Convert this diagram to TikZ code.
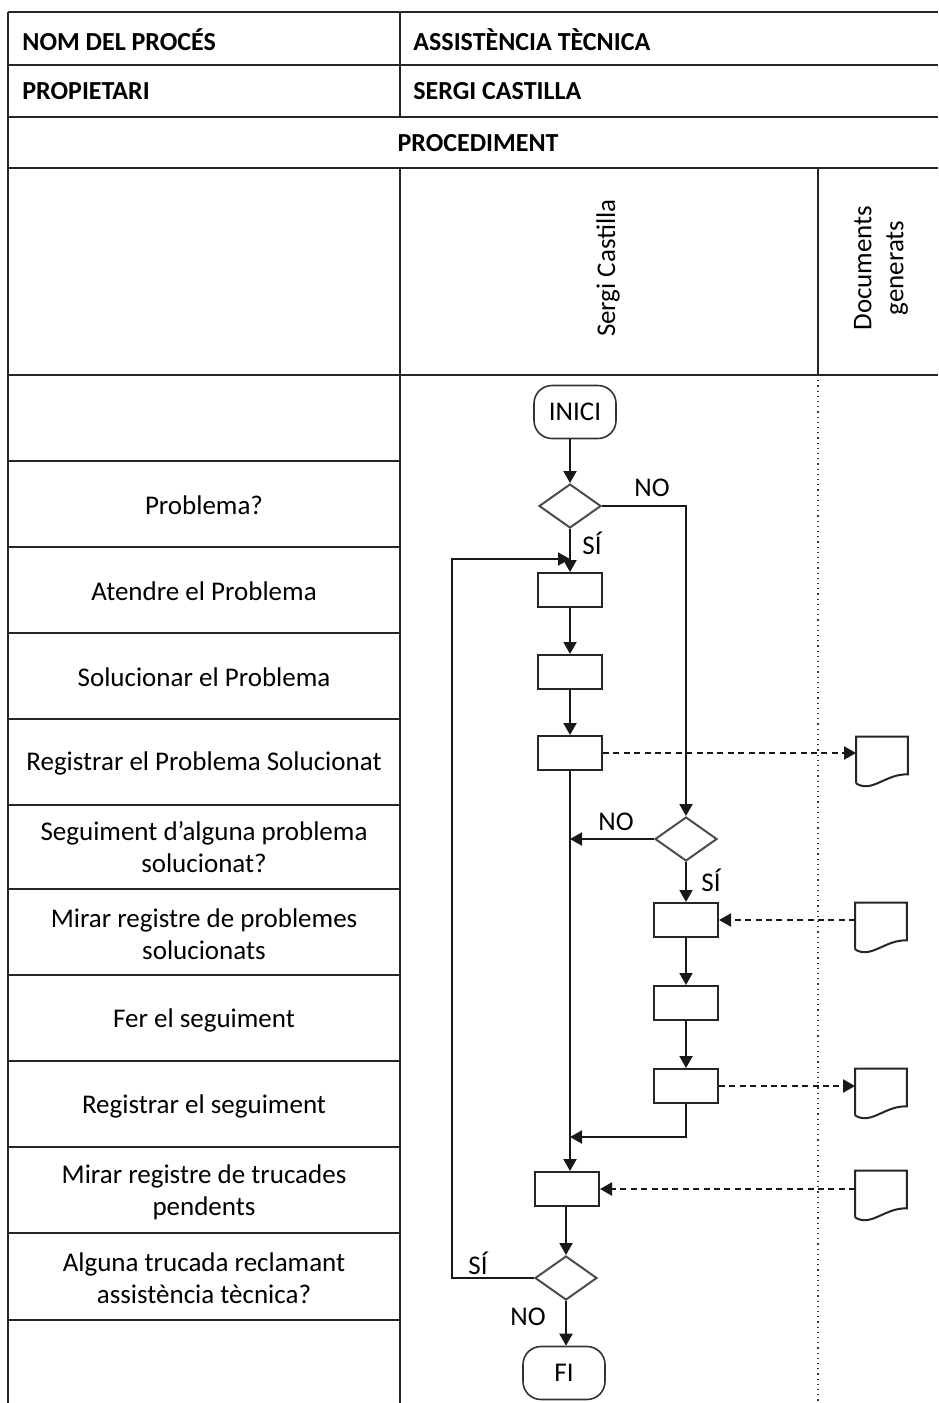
\documentclass[tikz,border=0pt]{standalone}
\usepackage{fontspec}
\setmainfont{Carlito}
\usetikzlibrary{shapes.geometric,arrows.meta,calc}
\newcommand{\fs}{\fontsize{13}{16}\selectfont}
\newcommand{\fb}{\fontsize{13.5}{16}\selectfont}

\begin{document}
\begin{tikzpicture}[x=0.5pt,y=-0.5pt,
  grid/.style={line width=1.1pt, draw=black!85},
  lane/.style={line width=0.6pt, draw=black!80, dotted},
  flow/.style={line width=1pt, draw=black!90, -{Triangle[length=6pt,width=6.5pt]}},
  docflow/.style={flow, dash pattern=on 3pt off 2.2pt},
  task/.style={draw=black!85, line width=1pt, minimum width=32pt, minimum height=17pt, inner sep=0pt},
  choice/.style={diamond, draw=black!70, line width=1pt, minimum width=31pt, minimum height=22pt, inner sep=0pt},
  term/.style={draw=black!80, line width=0.8pt, rounded corners=9pt, minimum width=41pt, minimum height=26.5pt, inner sep=0pt, font=\fb},
  docbox/.style={minimum width=25.5pt, minimum height=23pt, inner sep=0pt},
  docline/.style={draw=black!85, line width=1pt},
  lbl/.style={font=\fb, inner sep=0pt},
  rowtxt/.style={font=\fb, align=center, inner sep=0pt},
  head/.style={font=\fs\bfseries, anchor=west, inner sep=0pt},
]
\useasboundingbox[fill=white] (0,0) rectangle (938,1403);

% ---- table frame ----
\foreach \y in {12,65,117,168,375} \draw[grid] (8,\y) -- (938,\y);
\foreach \y in {461,547,633,719,805,889,975,1061,1147,1233,1320} \draw[grid] (8,\y) -- (400,\y);
\draw[grid] (8,12) -- (8,1403);
\draw[grid] (400,12) -- (400,117);
\draw[grid] (400,168) -- (400,1403);
\draw[grid] (818,168) -- (818,375);
\draw[lane] (818,375) -- (818,1403);

% ---- header ----
\node[head] (hname) at (22,40) {NOM DEL PROCÉS};
\node[head] (hnameval) at (413,40) {ASSISTÈNCIA TÈCNICA};
\node[head] (howner) at (22,91) {PROPIETARI};
\node[head] (hownerval) at (413,91) {SERGI CASTILLA};
\node[font=\fs\bfseries, inner sep=0pt] (hproc) at (478,143) {PROCEDIMENT};
\node[font=\fb, rotate=90, inner sep=0pt] (lane1) at (608,268) {Sergi Castilla};
\node[font=\fb, rotate=90, align=center, inner sep=0pt] (lane2) at (881,268) {Documents\\generats};

% ---- step descriptions ----
\node[rowtxt] (r1) at (204,505) {Problema?};
\node[rowtxt] (r2) at (204,591) {Atendre el Problema};
\node[rowtxt] (r3) at (204,677) {Solucionar el Problema};
\node[rowtxt] (r4) at (204,763) {Registrar el Problema Solucionat};
\node[rowtxt] (r5) at (204,847) {Seguiment d’alguna problema\\solucionat?};
\node[rowtxt] (r6) at (204,934) {Mirar registre de problemes\\solucionats};
\node[rowtxt] (r7) at (204,1020) {Fer el seguiment};
\node[rowtxt] (r8) at (204,1106) {Registrar el seguiment};
\node[rowtxt] (r9) at (204,1192) {Mirar registre de trucades\\pendents};
\node[rowtxt] (r10) at (204,1278) {Alguna trucada reclamant\\assistència tècnica?};

% ---- flowchart nodes ----
\node[term] (start) at (575,412) {INICI};
\node[choice] (q1) at (570,506) {};
\node[task] (t1) at (570,590) {};
\node[task] (t2) at (570,672) {};
\node[task] (t3) at (570,753) {};
\node[choice] (q2) at (686,839) {};
\node[task] (t4) at (686,920) {};
\node[task] (t5) at (686,1003) {};
\node[task] (t6) at (686,1086) {};
\node[task] (t7) at (567,1189) {};
\node[choice] (q3) at (566,1278) {};
\node[term] (end) at (564,1373) {FI};

% documents
\node[docbox] (d1) at (882,760) {};
\node[docbox] (d2) at (881,926) {};
\node[docbox] (d3) at (881,1092) {};
\node[docbox] (d4) at (881,1194) {};
\foreach \d in {d1,d2,d3,d4}
  \draw[docline] (\d.south west) -- (\d.north west) -- (\d.north east) -- ($(\d.south east)+(0,-9)$)
    .. controls ($(\d.south east)+(-22,-10)$) and ($(\d.south west)+(16,10)$) .. (\d.south west);

% ---- connectors ----
\coordinate (back) at (452,559);
\coordinate (join) at (570,1137);
\draw[flow] (start.south -| q1) -- (q1.north);
\draw[flow] (q1) -- (t1);
\draw[flow] (t1) -- (t2);
\draw[flow] (t2) -- (t3);
\draw[flow] (q1.east) -| (q2.north);
\draw[flow] (q2.west) -- (q2.west -| t3);
\draw[flow] (q2) -- (t4);
\draw[flow] (t4) -- (t5);
\draw[flow] (t5) -- (t6);
\draw[flow] (t6.south) |- (join);
\draw[flow] (t3.south) -- (t3.south |- t7.north);
\draw[flow] (t7.south -| q3) -- (q3.north);
\draw[flow] (q3.south) -- (q3.south |- end.north);
\draw[flow] (q3.west) -| (back) -- (back -| t1);

\draw[docflow] (t3.east) -- (t3.east -| d1.west);
\draw[docflow] (t4.east -| d2.west) -- (t4.east);
\draw[docflow] (t6.east) -- (t6.east -| d3.west);
\draw[docflow] (t7.east -| d4.west) -- (t7.east);

% ---- branch labels ----
\node[lbl] (no1) at (652,488) {NO};
\node[lbl] (si1) at (592,543) {SÍ};
\node[lbl] (no2) at (616,822) {NO};
\node[lbl] (si2) at (711,880) {SÍ};
\node[lbl] (si3) at (478,1263) {SÍ};
\node[lbl] (no3) at (528,1317) {NO};
\end{tikzpicture}
\end{document}
